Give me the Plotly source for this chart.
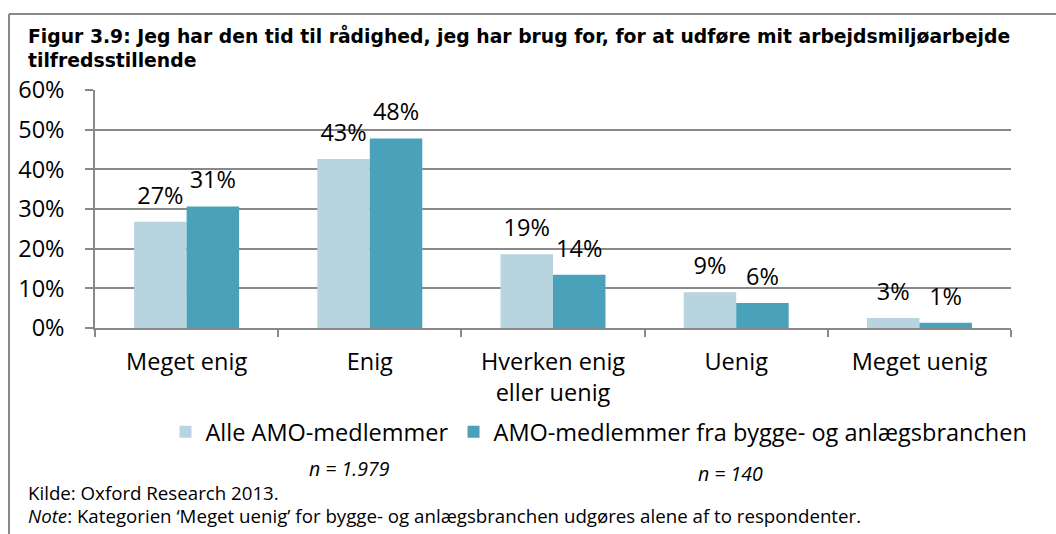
import plotly.graph_objects as go

categories = ["Meget enig", "Enig", "Hverken enig<br>eller uenig", "Uenig", "Meget uenig"]
alle_values = [26.8, 42.6, 18.6, 9.0, 2.5]
bygge_values = [30.6, 47.8, 13.4, 6.3, 1.3]
alle_labels = ["27%", "43%", "19%", "9%", "3%"]
bygge_labels = ["31%", "48%", "14%", "6%", "1%"]
series_names = ["Alle AMO-medlemmer", "AMO-medlemmer fra bygge- og anlægsbranchen"]
y_ticks = [0, 10, 20, 30, 40, 50, 60]
y_ticklabels = ["0%", "10%", "20%", "30%", "40%", "50%", "60%"]
title_text = ("Figur 3.9: Jeg har den tid til rådighed, jeg har brug for, for at udføre mit arbejdsmiljøarbejde"
              "<br>tilfredsstillende")
n_labels = ["n = 1.979", "n = 140"]
source_text = "Kilde: Oxford Research 2013."
note_text = "<i>Note</i>: Kategorien ‘Meget uenig’ for bygge- og anlægsbranchen udgøres alene af to respondenter."

LIGHT = "#B7D4DF"
DARK = "#4AA2BA"
GRID = "#898989"
FONT = "Open Sans"
FS = 23.5

W, H = 1056, 534
L, R, T, B = 95, 45, 90, 206
pw, ph = W - L - R, H - T - B


def px_x(x):
    return (x - L) / pw


def px_y(y):
    return (H - B - y) / ph


fig = go.Figure()
fig.add_bar(x=categories, y=alle_values, name=series_names[0], offsetgroup="a",
            marker=dict(color=LIGHT, line=dict(width=0)))
fig.add_bar(x=categories, y=bygge_values, name=series_names[1], offsetgroup="b",
            marker=dict(color=DARK, line=dict(width=0)))
for vals, labs, grp in [(alle_values, alle_labels, "a"), (bygge_values, bygge_labels, "b")]:
    fig.add_scatter(x=categories, y=vals, text=labs, mode="markers+text", textposition="top center",
                    marker=dict(size=18, opacity=0), textfont=dict(size=FS, color="#000000", family=FONT),
                    showlegend=False, hoverinfo="skip", offsetgroup=grp)

fig.update_layout(
    width=W, height=H,
    margin=dict(l=L, r=R, t=T, b=B, autoexpand=False),
    paper_bgcolor="white", plot_bgcolor="white",
    barmode="group", bargap=0.427, bargroupgap=0,
    scattermode="group", scattergap=0.427,
    font=dict(family=FONT, size=FS, color="#000000"),
    title=dict(text="<b>" + title_text + "</b>", x=28 / W, xanchor="left", xref="container",
               y=1 - 43 / H, yanchor="top", yref="container",
               font=dict(family="DejaVu Sans", size=18.8, color="#000000")),
    xaxis=dict(showline=True, linecolor=GRID, linewidth=1.5, ticks="outside", tickson="boundaries",
               ticklen=7, tickcolor=GRID, tickwidth=1.5, showgrid=False, tickfont=dict(size=FS),
               ticklabelstandoff=12),
    yaxis=dict(range=[0, 60], tickvals=y_ticks, ticktext=y_ticklabels, showline=True, linecolor=GRID,
               linewidth=1.5, ticks="outside", ticklen=8, tickcolor=GRID, tickwidth=1.5,
               showgrid=True, gridcolor=GRID, gridwidth=1.5, zeroline=False,
               tickfont=dict(size=FS), ticklabelstandoff=16),
    legend=dict(orientation="h", x=px_x(599), xanchor="center", y=px_y(432), yanchor="middle",
                font=dict(size=FS), bgcolor="rgba(0,0,0,0)", itemclick=False),
    showlegend=True,
)

fig.add_annotation(text="<i>" + n_labels[0] + "</i>", xref="paper", yref="paper", x=px_x(349), y=px_y(468),
                   showarrow=False, font=dict(size=19.5, family=FONT), xanchor="center", yanchor="middle")
fig.add_annotation(text="<i>" + n_labels[1] + "</i>", xref="paper", yref="paper", x=px_x(730), y=px_y(473),
                   showarrow=False, font=dict(size=19.5, family=FONT), xanchor="center", yanchor="middle")
fig.add_annotation(text=source_text, xref="paper", yref="paper", x=px_x(26), y=px_y(492),
                   showarrow=False, font=dict(size=18.7, family=FONT), xanchor="left", yanchor="middle")
fig.add_annotation(text=note_text, xref="paper", yref="paper", x=px_x(26), y=px_y(515),
                   showarrow=False, font=dict(size=18.7, family=FONT), xanchor="left", yanchor="middle")

# outer frame (top and left edges)
fig.add_shape(type="line", xref="paper", yref="paper", x0=px_x(9), x1=px_x(1070), y0=px_y(14), y1=px_y(14),
              line=dict(color=GRID, width=2))
fig.add_shape(type="line", xref="paper", yref="paper", x0=px_x(9), x1=px_x(9), y0=px_y(14), y1=px_y(550),
              line=dict(color=GRID, width=2))

fig.write_html("out.html", config={"displayModeBar": False},
               post_script="document.body.style.margin='0';document.body.style.overflow='hidden';")
